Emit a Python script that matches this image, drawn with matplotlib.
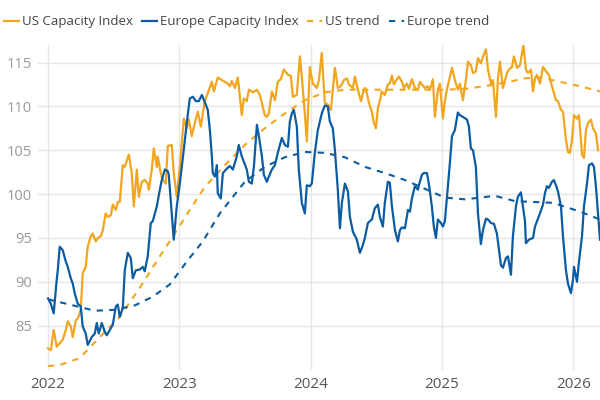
import matplotlib
matplotlib.use("Agg")
import matplotlib.pyplot as plt

# ---- data (decimal years, index values) ----
us_t = [2022.000, 2022.021, 2022.043, 2022.066, 2022.089, 2022.112, 2022.135, 2022.150, 2022.173, 2022.188,
        2022.211, 2022.226, 2022.249, 2022.264, 2022.287, 2022.302, 2022.325, 2022.340, 2022.363, 2022.379,
        2022.401, 2022.417, 2022.439, 2022.455, 2022.478, 2022.493, 2022.516, 2022.531, 2022.546, 2022.569,
        2022.584, 2022.615, 2022.637, 2022.653, 2022.676, 2022.691, 2022.714, 2022.736, 2022.759, 2022.767,
        2022.790, 2022.805, 2022.828, 2022.835, 2022.858, 2022.874, 2022.896, 2022.912, 2022.942, 2022.957,
        2022.980, 2023.003, 2023.034, 2023.056, 2023.072, 2023.094, 2023.117, 2023.140, 2023.163, 2023.193,
        2023.216, 2023.247, 2023.262, 2023.292, 2023.323, 2023.346, 2023.369, 2023.384, 2023.399, 2023.422,
        2023.445, 2023.475, 2023.490, 2023.513, 2023.529, 2023.559, 2023.590, 2023.612, 2023.628, 2023.650,
        2023.666, 2023.681, 2023.704, 2023.727, 2023.749, 2023.772, 2023.795, 2023.826, 2023.848, 2023.864,
        2023.894, 2023.917, 2023.932, 2023.955, 2023.970, 2023.993, 2024.016, 2024.046, 2024.062, 2024.084,
        2024.107, 2024.130, 2024.153, 2024.184, 2024.206, 2024.229, 2024.252, 2024.275, 2024.290, 2024.321,
        2024.336, 2024.359, 2024.382, 2024.397, 2024.412, 2024.427, 2024.443, 2024.465, 2024.481, 2024.496,
        2024.511, 2024.526, 2024.541, 2024.564, 2024.587, 2024.602, 2024.618, 2024.633, 2024.656, 2024.671,
        2024.694, 2024.709, 2024.732, 2024.747, 2024.770, 2024.793, 2024.816, 2024.831, 2024.846, 2024.869,
        2024.892, 2024.907, 2024.930, 2024.945, 2024.968, 2024.983, 2025.006, 2025.021, 2025.036, 2025.059,
        2025.075, 2025.097, 2025.120, 2025.135, 2025.158, 2025.181, 2025.197, 2025.219, 2025.235, 2025.257,
        2025.273, 2025.295, 2025.311, 2025.334, 2025.349, 2025.372, 2025.387, 2025.410, 2025.425, 2025.440,
        2025.463, 2025.494, 2025.509, 2025.532, 2025.547, 2025.570, 2025.593, 2025.619, 2025.638, 2025.654,
        2025.676, 2025.692, 2025.707, 2025.722, 2025.745, 2025.768, 2025.791, 2025.813, 2025.836, 2025.867,
        2025.882, 2025.905, 2025.920, 2025.943, 2025.958, 2025.973, 2025.989, 2026.004, 2026.027, 2026.042,
        2026.065, 2026.080, 2026.095, 2026.111, 2026.133, 2026.149, 2026.171, 2026.187]
us_v = [82.4, 82.2, 84.5, 82.6, 83.0, 83.4, 84.5, 85.5, 84.9, 83.7,
        85.6, 85.8, 86.8, 91.0, 91.7, 94.0, 95.2, 95.5, 94.6, 95.0,
        95.2, 95.9, 97.8, 97.4, 97.6, 98.8, 98.2, 99.1, 99.1, 103.3,
        103.1, 104.5, 102.4, 98.6, 102.8, 99.7, 101.4, 101.6, 101.2, 100.5,
        102.8, 105.2, 103.1, 104.3, 102.4, 101.6, 101.2, 105.5, 105.6, 102.4,
        99.7, 103.1, 108.6, 107.5, 108.5, 106.6, 108.1, 109.4, 107.7, 110.6,
        111.5, 112.8, 111.7, 113.3, 113.0, 112.8, 112.6, 112.3, 112.9, 112.1,
        113.3, 109.0, 110.9, 110.6, 111.9, 111.6, 111.9, 111.3, 110.4, 109.0,
        108.8, 109.2, 111.7, 110.7, 112.8, 113.1, 114.2, 113.6, 113.5, 111.1,
        111.3, 115.7, 113.4, 109.2, 106.0, 114.5, 112.6, 112.1, 113.0, 116.1,
        110.4, 110.2, 109.6, 114.4, 112.1, 112.3, 113.0, 113.2, 112.5, 112.1,
        113.4, 111.9, 110.6, 111.5, 112.1, 111.5, 110.4, 109.4, 108.1, 107.5,
        109.8, 110.6, 111.7, 111.3, 112.5, 112.6, 113.5, 112.5, 113.1, 113.4,
        112.8, 112.1, 112.6, 112.0, 113.1, 112.1, 111.9, 112.8, 112.5, 112.1,
        112.3, 111.9, 113.1, 108.8, 111.9, 112.6, 108.6, 110.6, 111.9, 113.4,
        114.4, 113.0, 111.9, 112.6, 110.7, 113.0, 115.1, 114.7, 113.8, 114.0,
        115.5, 114.9, 115.7, 116.5, 114.2, 112.6, 113.0, 108.8, 113.2, 115.1,
        112.1, 113.8, 114.2, 114.5, 115.7, 114.4, 114.7, 117.0, 114.2, 113.8,
        114.2, 111.7, 113.2, 113.6, 112.6, 114.5, 114.0, 113.6, 112.3, 110.7,
        110.6, 109.6, 109.4, 106.2, 104.8, 104.7, 106.2, 109.0, 108.6, 109.0,
        104.5, 104.1, 107.3, 108.1, 108.5, 107.5, 106.9, 105.0]

eu_t = [2022.000, 2022.021, 2022.043, 2022.066, 2022.074, 2022.089, 2022.112, 2022.135, 2022.150, 2022.173,
        2022.188, 2022.203, 2022.226, 2022.249, 2022.264, 2022.287, 2022.302, 2022.333, 2022.356, 2022.371,
        2022.386, 2022.409, 2022.432, 2022.447, 2022.470, 2022.493, 2022.516, 2022.531, 2022.546, 2022.569,
        2022.584, 2022.607, 2022.630, 2022.645, 2022.668, 2022.698, 2022.721, 2022.736, 2022.759, 2022.782,
        2022.797, 2022.828, 2022.851, 2022.866, 2022.889, 2022.912, 2022.919, 2022.942, 2022.957, 2022.980,
        2023.003, 2023.026, 2023.056, 2023.079, 2023.102, 2023.125, 2023.148, 2023.171, 2023.193, 2023.216,
        2023.232, 2023.247, 2023.254, 2023.270, 2023.285, 2023.292, 2023.315, 2023.331, 2023.361, 2023.384,
        2023.407, 2023.437, 2023.452, 2023.475, 2023.490, 2023.513, 2023.529, 2023.551, 2023.567, 2023.590,
        2023.605, 2023.628, 2023.643, 2023.666, 2023.681, 2023.704, 2023.727, 2023.749, 2023.780, 2023.803,
        2023.826, 2023.841, 2023.856, 2023.871, 2023.894, 2023.909, 2023.932, 2023.955, 2023.970, 2023.993,
        2024.008, 2024.031, 2024.054, 2024.084, 2024.107, 2024.130, 2024.145, 2024.168, 2024.184, 2024.206,
        2024.222, 2024.237, 2024.260, 2024.283, 2024.298, 2024.321, 2024.351, 2024.374, 2024.397, 2024.412,
        2024.435, 2024.450, 2024.465, 2024.488, 2024.511, 2024.526, 2024.549, 2024.564, 2024.587, 2024.602,
        2024.618, 2024.641, 2024.663, 2024.679, 2024.694, 2024.717, 2024.740, 2024.755, 2024.770, 2024.793,
        2024.816, 2024.823, 2024.846, 2024.861, 2024.884, 2024.899, 2024.922, 2024.937, 2024.953, 2024.968,
        2024.991, 2025.006, 2025.021, 2025.044, 2025.059, 2025.075, 2025.097, 2025.120, 2025.135, 2025.158,
        2025.189, 2025.204, 2025.219, 2025.235, 2025.257, 2025.273, 2025.295, 2025.311, 2025.334, 2025.349,
        2025.372, 2025.395, 2025.417, 2025.433, 2025.448, 2025.463, 2025.486, 2025.501, 2025.524, 2025.539,
        2025.562, 2025.577, 2025.600, 2025.615, 2025.631, 2025.638, 2025.661, 2025.692, 2025.707, 2025.722,
        2025.745, 2025.768, 2025.783, 2025.798, 2025.813, 2025.836, 2025.851, 2025.867, 2025.882, 2025.905,
        2025.920, 2025.943, 2025.958, 2025.981, 2025.996, 2026.004, 2026.027, 2026.042, 2026.065, 2026.080,
        2026.103, 2026.118, 2026.141, 2026.156, 2026.171, 2026.187, 2026.202]
eu_v = [88.1, 87.5, 86.4, 90.2, 91.3, 94.0, 93.6, 92.3, 91.7, 90.4,
        89.8, 88.7, 87.5, 87.2, 84.9, 84.1, 82.8, 83.7, 84.1, 85.3,
        84.1, 85.3, 84.3, 83.9, 84.5, 85.1, 87.2, 87.4, 86.0, 87.0,
        91.3, 93.3, 92.7, 90.4, 91.3, 91.4, 91.7, 91.2, 92.9, 96.7,
        96.9, 98.6, 100.5, 101.6, 102.8, 102.6, 102.2, 97.8, 94.8, 98.6,
        101.2, 104.1, 108.1, 110.9, 111.1, 110.6, 110.6, 111.3, 110.5, 109.6,
        107.3, 104.3, 102.4, 102.0, 103.3, 100.1, 99.5, 102.4, 102.9, 103.2,
        102.8, 104.3, 105.6, 104.3, 103.7, 102.8, 101.4, 101.2, 103.1, 107.9,
        106.6, 104.3, 102.2, 101.4, 102.0, 102.8, 103.3, 104.7, 106.4, 105.6,
        105.4, 108.3, 109.2, 109.6, 107.7, 102.8, 99.0, 97.8, 101.0, 100.9,
        101.2, 104.7, 107.3, 109.2, 110.1, 110.0, 108.3, 107.5, 105.0, 100.5,
        96.1, 99.0, 101.2, 100.3, 97.4, 95.7, 94.8, 93.3, 94.2, 95.0,
        96.7, 96.9, 97.1, 98.4, 98.8, 97.4, 96.3, 99.0, 101.4, 101.3,
        98.6, 95.9, 94.6, 95.9, 96.2, 96.1, 98.2, 98.0, 99.5, 100.9,
        100.5, 101.0, 102.2, 102.4, 102.4, 101.2, 98.6, 96.3, 95.0, 97.1,
        96.7, 96.3, 96.9, 100.9, 103.5, 106.6, 107.3, 109.3, 109.0, 108.8,
        108.5, 107.7, 105.2, 105.0, 103.1, 97.8, 94.3, 95.9, 97.2, 97.1,
        96.7, 96.6, 95.5, 93.6, 91.9, 91.6, 92.7, 92.9, 90.8, 95.2,
        98.6, 99.7, 100.2, 98.6, 96.9, 94.4, 94.8, 95.0, 96.3, 96.9,
        97.8, 98.8, 100.1, 100.9, 100.7, 101.4, 101.6, 101.0, 100.3, 98.6,
        95.2, 91.3, 89.8, 88.7, 90.2, 91.7, 90.0, 92.3, 95.2, 98.6,
        101.2, 103.3, 103.5, 103.1, 100.9, 97.8, 94.8]

us_trend_t = [2022.000, 2022.089, 2022.241, 2022.394, 2022.546, 2022.698, 2022.851, 2022.965, 2023.079,
              2023.193, 2023.346, 2023.498, 2023.650, 2023.803, 2023.955, 2024.107, 2024.260, 2024.412,
              2024.717, 2025.021, 2025.174, 2025.326, 2025.478, 2025.631, 2025.745, 2025.897, 2026.050, 2026.202]
us_trend_v = [80.4, 80.5, 81.3, 83.7, 86.0, 89.3, 92.9, 95.5, 98.2,
              100.8, 103.3, 105.6, 107.5, 109.2, 110.7, 111.6, 111.9, 111.9,
              111.9, 111.9, 112.0, 112.3, 112.7, 113.2, 113.3, 112.8, 112.3, 111.7]

eu_trend_t = [2022.000, 2022.165, 2022.356, 2022.508, 2022.660, 2022.797, 2022.927, 2023.056, 2023.178,
              2023.308, 2023.498, 2023.650, 2023.803, 2023.955, 2024.107, 2024.260, 2024.412, 2024.564,
              2024.717, 2024.869, 2025.021, 2025.174, 2025.402, 2025.554, 2025.844, 2026.050, 2026.202]
eu_trend_v = [88.0, 87.4, 86.7, 86.8, 87.3, 88.3, 89.7, 92.3, 94.6,
              97.8, 101.4, 103.1, 104.2, 104.8, 104.7, 104.2, 103.1, 102.4,
              101.6, 100.6, 99.6, 99.4, 99.8, 99.2, 99.0, 98.0, 97.1]

year_ticks = [2022, 2023, 2024, 2025, 2026]
value_ticks = [85, 90, 95, 100, 105, 110, 115]

ORANGE = "#F2A51E"
BLUE = "#0B5CA2"

plt.rcParams["font.family"] = ["Open Sans", "DejaVu Sans"]

fig = plt.figure(figsize=(6, 4), dpi=100)
ax = fig.add_axes([0.063, 0.075, 0.937, 0.8125])

ax.plot(us_t, us_v, color=ORANGE, lw=1.6, label="US Capacity Index", zorder=3)
ax.plot(eu_t, eu_v, color=BLUE, lw=1.6, label="Europe Capacity Index", zorder=4)
ax.plot(us_trend_t, us_trend_v, color=ORANGE, lw=1.5, ls=(0, (3, 3)), label="US trend", zorder=2)
ax.plot(eu_trend_t, eu_trend_v, color=BLUE, lw=1.5, ls=(0, (3, 3)), label="Europe trend", zorder=2)

ax.set_xlim(2021.922, 2026.202)
ax.set_ylim(79.94, 117.0)
ax.set_xticks(year_ticks)
ax.set_xticklabels([str(y) for y in year_ticks])
ax.set_yticks(value_ticks)

for s in ax.spines.values():
    s.set_visible(False)
ax.grid(True, color="#e6e6e6", lw=1.0)
ax.set_axisbelow(True)
ax.tick_params(axis="both", length=0)
ax.tick_params(axis="y", colors="#9a9a9a", pad=4, labelsize=10.5)
ax.tick_params(axis="x", colors="#555555", pad=5, labelsize=11)

leg = fig.legend(loc="upper left", bbox_to_anchor=(-0.009, 0.985), ncol=4, frameon=False,
                 fontsize=9.5, handlelength=1.15, handletextpad=0.2, columnspacing=0.7,
                 borderaxespad=0.3)
for t in leg.get_texts():
    t.set_color("#444444")

fig.savefig("out.png", dpi=100)
